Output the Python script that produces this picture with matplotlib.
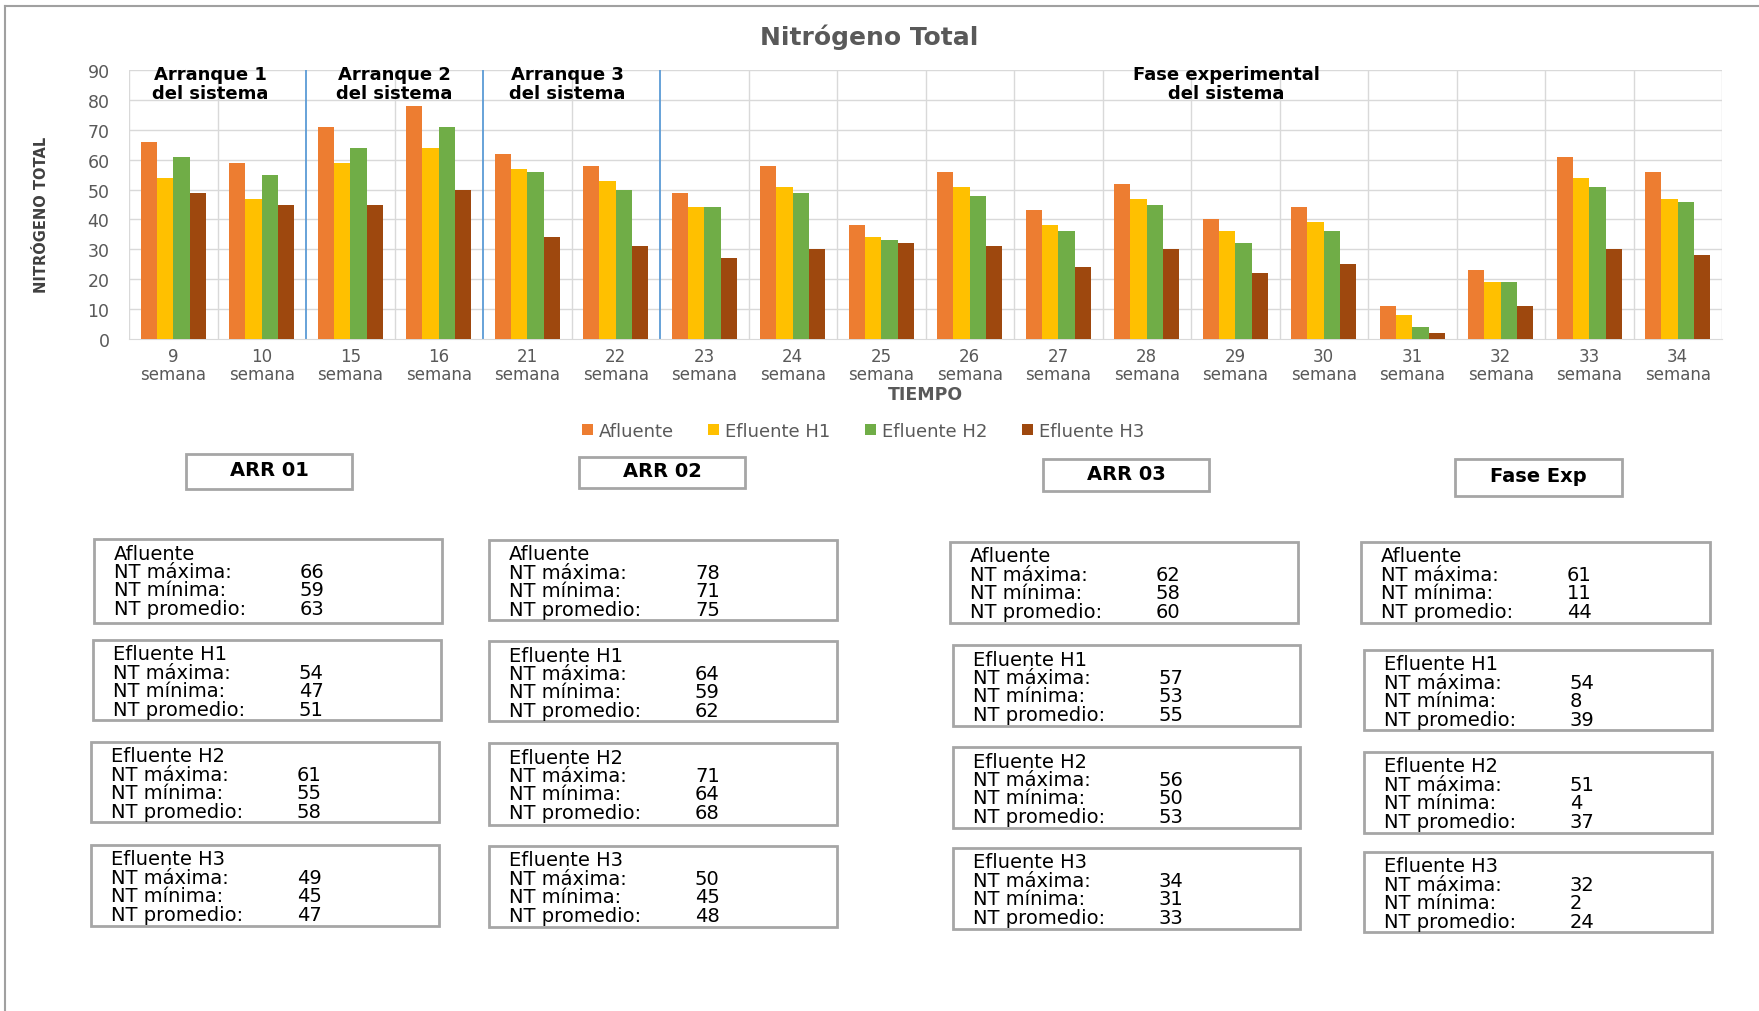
import numpy as np
import matplotlib
matplotlib.use("Agg")
import matplotlib.pyplot as plt
from matplotlib.patches import Rectangle
from matplotlib.lines import Line2D
from matplotlib import font_manager

# ---- data -------------------------------------------------------------
weeks = [9, 10, 15, 16, 21, 22, 23, 24, 25, 26, 27, 28, 29, 30, 31, 32, 33, 34]
afluente    = [66, 59, 71, 78, 62, 58, 49, 58, 38, 56, 43, 52, 40, 44, 11, 23, 61, 56]
efluente_h1 = [54, 47, 59, 64, 57, 53, 44, 51, 34, 51, 38, 47, 36, 39, 8, 19, 54, 47]
efluente_h2 = [61, 55, 64, 71, 56, 50, 44, 49, 33, 48, 36, 45, 32, 36, 4, 19, 51, 46]
efluente_h3 = [49, 45, 45, 50, 34, 31, 27, 30, 32, 31, 24, 30, 22, 25, 2, 11, 30, 28]

series_names = ["Afluente", "Efluente H1", "Efluente H2", "Efluente H3"]
series_values = [afluente, efluente_h1, efluente_h2, efluente_h3]
colors = ["#ED7D31", "#FFC000", "#70AD47", "#9E480E"]

phase_names = ["ARR 01", "ARR 02", "ARR 03", "Fase Exp"]
phase_ranges = [(0, 2), (2, 4), (4, 6), (6, 18)]
phase_titles = ["Arranque 1\ndel sistema", "Arranque 2\ndel sistema",
                "Arranque 3\ndel sistema", "Fase experimental\ndel sistema"]
phase_title_x = [0.42, 2.5, 4.45, 11.9]

# ---- figure -----------------------------------------------------------
W, H = 1759, 1012
fig = plt.figure(figsize=(W / 100, H / 100), dpi=100, facecolor="white")

# pixel canvas for frame and summary boxes
canvas = fig.add_axes([0, 0, 1, 1], zorder=0)
canvas.set_xlim(0, W)
canvas.set_ylim(H, 0)
canvas.axis("off")

frame_c = "#A0A0A0"
canvas.add_line(Line2D([5, 5], [7, H], color=frame_c, lw=1.5))
canvas.add_line(Line2D([5, W], [7, 7], color=frame_c, lw=1.5))

gray_txt = "#595959"

# ---- bar chart --------------------------------------------------------
left, right, top, bottom = 129, 1722, 71, 340
ax = fig.add_axes([left / W, 1 - bottom / H, (right - left) / W, (bottom - top) / H], zorder=2)
ax.set_facecolor("white")
n = len(weeks)
x = np.arange(n)
bw = 0.185
for i, (name, vals, c) in enumerate(zip(series_names, series_values, colors)):
    ax.bar(x + (i - 1.5) * bw, vals, width=bw, color=c, label=name, zorder=3)

ax.set_xlim(-0.5, n - 0.5)
ax.set_ylim(0, 90)
ax.set_yticks(np.arange(0, 91, 10))
for yv in range(10, 91, 10):
    ax.axhline(yv, color="#D9D9D9", lw=1, zorder=1)
blue_bounds = [1.5, 3.5, 5.5]
for b in np.arange(-0.5, n, 1.0):
    if any(abs(b - bb) < 1e-6 for bb in blue_bounds):
        ax.axvline(b, color="#5B9BD5", lw=1.3, zorder=2)
    else:
        ax.axvline(b, color="#D9D9D9", lw=1, zorder=1)
for s in ["top", "right", "left"]:
    ax.spines[s].set_visible(False)
ax.spines["bottom"].set_color("#D9D9D9")
ax.set_xticks(x)
ax.set_xticklabels([f"{w}\nsemana" for w in weeks], fontsize=12, color=gray_txt, linespacing=0.95)
ax.tick_params(axis="x", length=0, pad=6)
ax.tick_params(axis="y", length=0, pad=14, labelsize=12.5, labelcolor=gray_txt)

for tx, title in zip(phase_title_x, phase_titles):
    l1, l2 = title.split("\n")
    ax.text(tx, 88.6, l1, ha="center", va="center", fontsize=13, fontweight="bold", color="black", zorder=5)
    ax.text(tx, 82.2, l2, ha="center", va="center", fontsize=13, fontweight="bold", color="black", zorder=5)

fig.text(869 / W, 1 - 37 / H, "Nitrógeno Total", ha="center", va="center",
         fontsize=18, fontweight="bold", color=gray_txt)
fig.text(925 / W, 1 - 395 / H, "TIEMPO", ha="center", va="center",
         fontsize=12.5, fontweight="bold", color=gray_txt)

available = {f.name for f in font_manager.fontManager.ttflist}
ylab_family = "Liberation Sans Narrow" if "Liberation Sans Narrow" in available else "DejaVu Sans"
fig.text(42 / W, 1 - 215 / H, "NITRÓGENO TOTAL", rotation=90, ha="center", va="center",
         fontsize=10.5, fontweight="bold", color="#404040", family=ylab_family)

fig.legend(*ax.get_legend_handles_labels(), loc="center", bbox_to_anchor=(863 / W, 1 - 432 / H),
           ncol=4, frameon=False, fontsize=13, handlelength=0.6, handleheight=0.6,
           handletextpad=0.35, columnspacing=1.9, labelcolor=gray_txt)

# ---- summary boxes ----------------------------------------------------
box_edge = "#A6A6A6"

header_boxes = [(186, 455, 352, 490), (579, 458, 745, 489), (1043, 460, 1209, 492), (1455, 460, 1622, 497)]
for (x0, y0, x1, y1), name in zip(header_boxes, phase_names):
    canvas.add_patch(Rectangle((x0, y0), x1 - x0, y1 - y0, fill=False, ec=box_edge, lw=2))
    canvas.text((x0 + x1) / 2, (y0 + y1) / 2 - 2, name, ha="center", va="center",
                fontsize=14, fontweight="bold", color="black")

stat_boxes = [
    [(94, 540, 442, 624), (93, 641, 441, 721), (91, 743, 439, 823), (91, 846, 439, 927)],
    [(489, 541, 837, 621), (489, 642, 837, 722), (489, 744, 837, 826), (489, 847, 837, 928)],
    [(950, 543, 1298, 624), (953, 646, 1300, 727), (953, 748, 1300, 829), (953, 849, 1300, 930)],
    [(1361, 543, 1710, 624), (1364, 651, 1712, 731), (1364, 753, 1712, 834), (1364, 853, 1712, 933)],
]


def half_up(v):
    return int(np.floor(v + 0.5))


fs_box = 14
for (start, stop), boxes in zip(phase_ranges, stat_boxes):
    for name, vals, (x0, y0, x1, y1) in zip(series_names, series_values, boxes):
        seg = vals[start:stop]
        canvas.add_patch(Rectangle((x0, y0), x1 - x0, y1 - y0, fill=False, ec=box_edge, lw=2))
        tx = x0 + 20
        vx = x0 + 206
        canvas.text(tx, y0 + 14, name, ha="left", va="center", fontsize=fs_box, color="black")
        rows = [("NT máxima:", max(seg)), ("NT mínima:", min(seg)),
                ("NT promedio:", half_up(np.mean(seg)))]
        for k, (lab, val) in enumerate(rows):
            yy = y0 + 32.5 + 18.4 * k
            canvas.text(tx, yy, lab, ha="left", va="center", fontsize=fs_box, color="black")
            canvas.text(vx, yy, str(val), ha="left", va="center", fontsize=fs_box, color="black")

fig.savefig("out.png", dpi=100, facecolor="white")
